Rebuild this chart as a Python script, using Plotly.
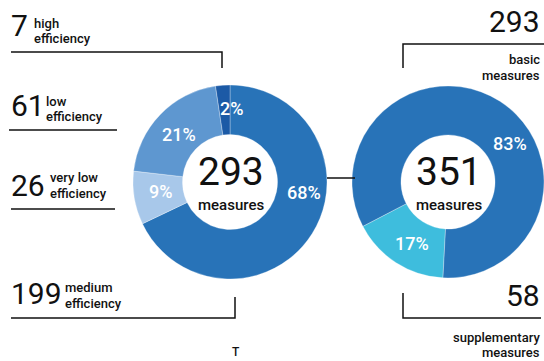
import plotly.graph_objects as go

W, H = 544, 361

# ---- data ----
eff_labels = ["medium efficiency", "very low efficiency", "low efficiency", "high efficiency"]
eff_values = [199, 26, 61, 7]
eff_colors = ["#2873b8", "#a8c8ea", "#5e97d0", "#1c5aa6"]

type_labels = ["supplementary measures", "basic measures"]
type_values = [58, 293]
type_colors = ["#3ebddd", "#2873b8"]

FONT = "Roboto, Lato, sans-serif"


def px(x):
    return x / W


def py(y):
    return 1 - y / H


fig = go.Figure()

fig.add_trace(go.Pie(
    labels=eff_labels, values=eff_values, sort=False, direction="clockwise",
    rotation=0, hole=0.49, textinfo="none", showlegend=False,
    marker=dict(colors=eff_colors, line=dict(color="rgba(255,255,255,0.5)", width=0.6)),
    domain=dict(x=[px(133), px(327)], y=[py(279), py(85)]),
))
fig.add_trace(go.Pie(
    labels=type_labels, values=type_values, sort=False, direction="clockwise",
    rotation=183, hole=0.49, textinfo="none", showlegend=False,
    marker=dict(colors=type_colors, line=dict(color="rgba(255,255,255,0.5)", width=0.6)),
    domain=dict(x=[px(352), 1.0], y=[py(279), py(85)]),
))

ann = []


def text(x, y, s, size, color="#111", xanchor="center", yanchor="middle", weight=400):
    ann.append(dict(x=px(x), y=py(y), xref="paper", yref="paper", text=s, showarrow=False,
                    font=dict(family=FONT, size=size, color=color, weight=weight),
                    xanchor=xanchor, yanchor=yanchor))


# percentages
eff_tot = sum(eff_values)
type_tot = sum(type_values)
eff_pct = [f"{round(v / eff_tot * 100)}%" for v in eff_values]
type_pct = [f"{round(v / type_tot * 100)}%" for v in type_values]
eff_pos = [(304, 192), (160, 191), (179, 134), (231, 108)]
type_pos = [(412, 243), (510, 143)]
for s, (x, y) in zip(eff_pct, eff_pos):
    text(x, y, s, 18, "white", weight=500)
for s, (x, y) in zip(type_pct, type_pos):
    text(x, y, s, 18, "white", weight=500)

# centers
text(231, 172, f"{eff_tot}", 39)
text(231, 205, "measures", 15, weight=500)
text(449, 172, f"{type_tot}", 39)
text(449, 205, "measures", 15, weight=500)

# left side labels: value, line1, line2, number-center y, line1 y, line2 y, label x
left_items = [
    (eff_values[3], "high", "efficiency", 25, 23, 39, 32),
    (eff_values[2], "low", "efficiency", 105, 101, 116, 44),
    (eff_values[1], "very low", "efficiency", 185, 177, 193, 48),
    (eff_values[0], "medium", "efficiency", 293, 287, 303, 63),
]
for val, l1, l2, yn, y1, y2, xl in left_items:
    text(9, yn, str(val), 30, xanchor="left")
    text(xl, y1, l1, 13, xanchor="left", weight=500)
    text(xl, y2, l2, 13, xanchor="left", weight=500)

# right side labels
text(542, 21, str(type_values[1]), 30, xanchor="right")
text(542, 59, "basic", 13, xanchor="right", weight=500)
text(542, 75, "measures", 13, xanchor="right", weight=500)
text(542, 295, str(type_values[0]), 30, xanchor="right")
text(542, 337, "supplementary", 13, xanchor="right", weight=500)
text(542, 352, "measures", 13, xanchor="right", weight=500)

text(236, 352, "T", 12, weight=500)

shapes = []


def line(pts):
    path = "M " + " L ".join(f"{px(x)},{py(y)}" for x, y in pts)
    shapes.append(dict(type="path", path=path, xref="paper", yref="paper",
                       line=dict(color="#111", width=1.5)))


line([(11, 52), (222, 52), (222, 68)])
line([(9, 130), (117, 130)])
line([(11, 209), (115, 209)])
line([(235, 297), (235, 318), (11, 318)])
line([(327, 178), (355, 178)])
line([(403, 68), (403, 44), (544, 44)])
line([(403, 293), (403, 318), (541, 318)])

fig.update_layout(
    width=W, height=H, margin=dict(l=0, r=0, t=0, b=0),
    paper_bgcolor="white", plot_bgcolor="white",
    annotations=ann, shapes=shapes, font=dict(family=FONT),
)

fig.write_html("out.html")
